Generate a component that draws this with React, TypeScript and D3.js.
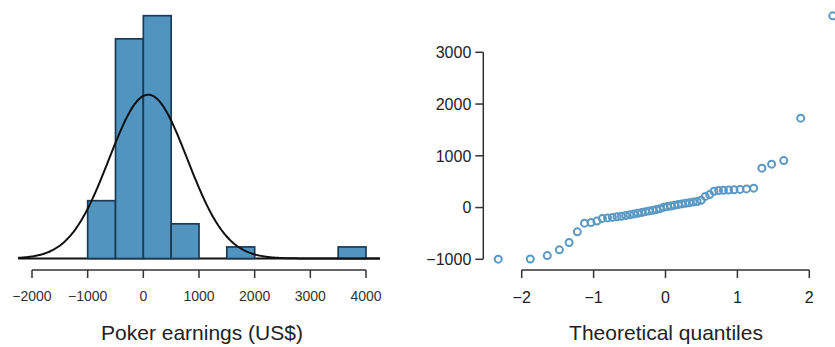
import React, { useRef, useEffect } from 'react';
import * as d3 from 'd3';

// sorted sample (US$)
const earnings = [
  -997, -995, -928, -817, -676, -470, -302, -290, -262, -210,
  -200, -190, -180, -168, -155, -140, -125, -110, -95, -80,
  -65, -52, -38, -22, 5, 18, 30, 45, 58, 70,
  82, 92, 105, 118, 140, 215, 250, 315, 330, 335,
  340, 345, 350, 360, 375, 761, 838, 908, 1727, 3705,
];
const binEdges = [-1000, -500, 0, 500, 1000, 1500, 2000, 2500, 3000, 3500, 4000];
const histTicks = [-2000, -1000, 0, 1000, 2000, 3000, 4000];
const curveSpan = [-2250, 4250];
const qqXTicks = [-2, -1, 0, 1, 2];
const qqYTicks = [-1000, 0, 1000, 2000, 3000];

const FONT = '"Liberation Sans", Arial, Helvetica, sans-serif';
const BAR = '#5294c0';
const BAR_EDGE = '#1b3b55';
const POINT = '#5a99c4';
const INK = '#222';

const fmt = (v: number) => (v < 0 ? '\u2212' + Math.abs(v) : String(v));

// inverse normal cdf (Acklam)
function qnorm(p: number) {
  const a = [-39.69683028665376, 220.9460984245205, -275.9285104469687, 138.357751867269, -30.66479806614716, 2.506628277459239];
  const b = [-54.47609879822406, 161.5858368580409, -155.6989798598866, 66.80131188771972, -13.28068155288572];
  const c = [-0.007784894002430293, -0.3223964580411365, -2.400758277161838, -2.549732539343734, 4.374664141464968, 2.938163982698783];
  const d = [0.007784695709041462, 0.3224671290700398, 2.445134137142996, 3.754408661907416];
  const pl = 0.02425;
  if (p < pl) {
    const q = Math.sqrt(-2 * Math.log(p));
    return (((((c[0] * q + c[1]) * q + c[2]) * q + c[3]) * q + c[4]) * q + c[5]) / ((((d[0] * q + d[1]) * q + d[2]) * q + d[3]) * q + 1);
  }
  if (p > 1 - pl) {
    const q = Math.sqrt(-2 * Math.log(1 - p));
    return -(((((c[0] * q + c[1]) * q + c[2]) * q + c[3]) * q + c[4]) * q + c[5]) / ((((d[0] * q + d[1]) * q + d[2]) * q + d[3]) * q + 1);
  }
  const q = p - 0.5;
  const r = q * q;
  return (((((a[0] * r + a[1]) * r + a[2]) * r + a[3]) * r + a[4]) * r + a[5]) * q / (((((b[0] * r + b[1]) * r + b[2]) * r + b[3]) * r + b[4]) * r + 1);
}

const App = () => {
  const svgRef = useRef<SVGSVGElement>(null);

  useEffect(() => {
    const svg = d3.select(svgRef.current);
    svg.selectAll('*').remove();

    // ---------- histogram ----------
    const x = d3.scaleLinear().domain([-2000, 4000]).range([32, 366]);
    const y = d3.scaleLinear().domain([0, 21]).range([258.5, 15.7]);

    const bins = d3.bin().domain([-1000, 4000]).thresholds(binEdges.slice(1, -1))(earnings);
    const binWidth = binEdges[1] - binEdges[0];

    svg
      .append('line')
      .attr('x1', x(curveSpan[0]))
      .attr('x2', x(curveSpan[1]))
      .attr('y1', y(0))
      .attr('y2', y(0))
      .style('stroke', '#111')
      .style('stroke-width', 2);

    svg
      .append('g')
      .selectAll('rect')
      .data(bins.filter((b) => b.length > 0))
      .join('rect')
      .attr('x', (b) => x(b.x0!))
      .attr('width', (b) => x(b.x1!) - x(b.x0!))
      .attr('y', (b) => y(b.length))
      .attr('height', (b) => y(0) - y(b.length))
      .style('fill', BAR)
      .style('stroke', BAR_EDGE)
      .style('stroke-width', 1.7);

    const mean = d3.mean(earnings)!;
    const sd = d3.deviation(earnings)!;
    const density = (v: number) =>
      (earnings.length * binWidth * Math.exp(-0.5 * ((v - mean) / sd) ** 2)) / (sd * Math.sqrt(2 * Math.PI));
    const line = d3
      .line<number>()
      .x((v) => x(v))
      .y((v) => y(density(v)))
      .curve(d3.curveBasis);
    svg
      .append('path')
      .attr('d', line(d3.range(curveSpan[0], curveSpan[1] + 1, 20)))
      .style('fill', 'none')
      .style('stroke', '#111')
      .style('stroke-width', 2);

    // x axis
    const hAxis = svg.append('g').attr('transform', 'translate(0,270)');
    hAxis
      .append('line')
      .attr('x1', x(histTicks[0]))
      .attr('x2', x(histTicks[histTicks.length - 1]))
      .style('stroke', '#333')
      .style('stroke-width', 1.5);
    hAxis
      .selectAll('line.tick')
      .data(histTicks)
      .join('line')
      .attr('class', 'tick')
      .attr('x1', (t) => x(t))
      .attr('x2', (t) => x(t))
      .attr('y2', 8)
      .style('stroke', '#333')
      .style('stroke-width', 1.5);
    hAxis
      .selectAll('text')
      .data(histTicks)
      .join('text')
      .text((t) => fmt(t))
      .attr('x', (t) => x(t))
      .attr('y', 31)
      .attr('text-anchor', 'middle')
      .style('font-family', FONT)
      .style('font-size', '14px')
      .style('fill', '#333');

    svg
      .append('text')
      .text('Poker earnings (US$)')
      .attr('x', 202)
      .attr('y', 340)
      .attr('text-anchor', 'middle')
      .style('font-family', FONT)
      .style('font-size', '21px')
      .style('fill', INK);

    // ---------- Q-Q plot ----------
    const qx = d3.scaleLinear().domain([-2, 2]).range([521.7, 809.3]);
    const qy = d3.scaleLinear().domain([-1000, 3000]).range([259.3, 52.3]);
    const n = earnings.length;
    const pts = earnings.map((v, i) => ({ q: qnorm((i + 0.5) / n), v }));

    const yAxis = svg.append('g').attr('transform', 'translate(483.3,0)');
    yAxis
      .append('line')
      .attr('y1', qy(qqYTicks[0]))
      .attr('y2', qy(qqYTicks[qqYTicks.length - 1]))
      .style('stroke', '#333')
      .style('stroke-width', 1.5);
    yAxis
      .selectAll('line.tick')
      .data(qqYTicks)
      .join('line')
      .attr('class', 'tick')
      .attr('y1', (t) => qy(t))
      .attr('y2', (t) => qy(t))
      .attr('x2', -8)
      .style('stroke', '#333')
      .style('stroke-width', 1.5);
    yAxis
      .selectAll('text')
      .data(qqYTicks)
      .join('text')
      .text((t) => fmt(t))
      .attr('x', -12)
      .attr('y', (t) => qy(t))
      .attr('dy', '0.36em')
      .attr('text-anchor', 'end')
      .style('font-family', FONT)
      .style('font-size', '16px')
      .style('fill', INK);

    const xAxis = svg.append('g').attr('transform', 'translate(0,270)');
    xAxis
      .append('line')
      .attr('x1', qx(qqXTicks[0]))
      .attr('x2', qx(qqXTicks[qqXTicks.length - 1]))
      .style('stroke', '#333')
      .style('stroke-width', 1.5);
    xAxis
      .selectAll('line.tick')
      .data(qqXTicks)
      .join('line')
      .attr('class', 'tick')
      .attr('x1', (t) => qx(t))
      .attr('x2', (t) => qx(t))
      .attr('y2', 8)
      .style('stroke', '#333')
      .style('stroke-width', 1.5);
    xAxis
      .selectAll('text')
      .data(qqXTicks)
      .join('text')
      .text((t) => fmt(t))
      .attr('x', (t) => qx(t))
      .attr('y', 33)
      .attr('text-anchor', 'middle')
      .style('font-family', FONT)
      .style('font-size', '16px')
      .style('fill', INK);

    svg
      .append('g')
      .selectAll('circle')
      .data(pts)
      .join('circle')
      .attr('cx', (d) => qx(d.q))
      .attr('cy', (d) => qy(d.v))
      .attr('r', 3.5)
      .style('fill', 'none')
      .style('stroke', POINT)
      .style('stroke-width', 2);

    svg
      .append('text')
      .text('Theoretical quantiles')
      .attr('x', 666)
      .attr('y', 340)
      .attr('text-anchor', 'middle')
      .style('font-family', FONT)
      .style('font-size', '21px')
      .style('fill', INK);
  }, []);

  return (
    <div>
      <svg
        ref={svgRef}
        width="835"
        height="347"
        style={{ position: 'absolute', left: 0, top: 0, background: '#fff' }}
      ></svg>
    </div>
  );
};

export default App;
